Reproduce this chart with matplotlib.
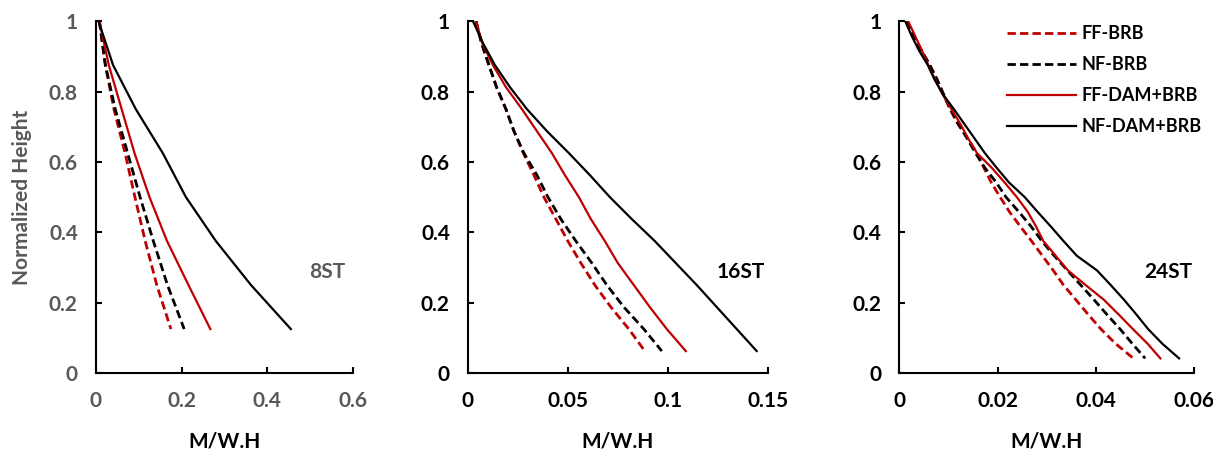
import matplotlib
matplotlib.use("Agg")
import matplotlib.pyplot as plt
from matplotlib.ticker import FuncFormatter

# --- Data ---
series_names = ['FF-BRB', 'NF-BRB', 'FF-DAM+BRB', 'NF-DAM+BRB']
panel_labels = ['8ST', '16ST', '24ST']

# normalized storey heights (top -> bottom)
h_8 = [1, 0.875, 0.75, 0.625, 0.5, 0.375, 0.25, 0.125]
h_16 = [1, 0.9375, 0.875, 0.8125, 0.75, 0.6875, 0.625, 0.5625, 0.5,
        0.4375, 0.375, 0.3125, 0.25, 0.1875, 0.125, 0.0625]
h_24 = [1, 0.9583, 0.9167, 0.875, 0.8333, 0.7917, 0.75, 0.7083, 0.6667,
        0.625, 0.5833, 0.5417, 0.5, 0.4583, 0.4167, 0.375, 0.3333, 0.2917,
        0.25, 0.2083, 0.1667, 0.125, 0.0833, 0.0417]

# 8 storey
ff_brb_8 = [0.008, 0.022, 0.042, 0.068, 0.091, 0.115, 0.142, 0.175]
nf_brb_8 = [0.008, 0.022, 0.045, 0.074, 0.103, 0.134, 0.167, 0.206]
ff_dam_8 = [0.008, 0.030, 0.060, 0.090, 0.125, 0.166, 0.216, 0.267]
nf_dam_8 = [0.006, 0.040, 0.093, 0.156, 0.210, 0.280, 0.362, 0.455]

# 16 storey
ff_brb_16 = [0.004, 0.0068, 0.0105, 0.0143, 0.019, 0.023, 0.0277, 0.033, 0.038,
             0.044, 0.050, 0.0565, 0.0635, 0.0715, 0.0805, 0.0885]
nf_brb_16 = [0.004, 0.0068, 0.0105, 0.0143, 0.019, 0.023, 0.028, 0.0345, 0.040,
             0.0465, 0.054, 0.062, 0.0695, 0.078, 0.088, 0.097]
ff_dam_16 = [0.004, 0.0072, 0.0125, 0.019, 0.027, 0.0345, 0.042, 0.0485, 0.0555,
             0.0615, 0.0685, 0.075, 0.083, 0.091, 0.0995, 0.109]
nf_dam_16 = [0.0025, 0.0075, 0.0135, 0.021, 0.0295, 0.0395, 0.0505, 0.061, 0.071,
             0.082, 0.0935, 0.104, 0.1145, 0.1245, 0.1345, 0.1445]

# 24 storey
ff_brb_24 = [0.0015, 0.0028, 0.0045, 0.0062, 0.0077, 0.0090, 0.0103, 0.0119,
             0.0139, 0.0158, 0.0172, 0.0187, 0.0205, 0.0224, 0.0246, 0.0269,
             0.0291, 0.0313, 0.0334, 0.0359, 0.0384, 0.0410, 0.0440, 0.0476]
nf_brb_24 = [0.0015, 0.0028, 0.0045, 0.0062, 0.0077, 0.0090, 0.0104, 0.0120,
             0.0138, 0.0155, 0.0174, 0.0197, 0.0217, 0.0243, 0.0268, 0.0290,
             0.0315, 0.0342, 0.0369, 0.0396, 0.0422, 0.0449, 0.0474, 0.0500]
ff_dam_24 = [0.0018, 0.0032, 0.0046, 0.0059, 0.0073, 0.0088, 0.0106, 0.0124,
             0.0140, 0.0158, 0.0188, 0.0214, 0.0239, 0.0261, 0.0278, 0.0293,
             0.0318, 0.0343, 0.0379, 0.0416, 0.0446, 0.0475, 0.0505, 0.0531]
nf_dam_24 = [0.0012, 0.0025, 0.0040, 0.0058, 0.0072, 0.0089, 0.0111, 0.0132,
             0.0153, 0.0174, 0.0198, 0.0223, 0.0255, 0.0281, 0.0308, 0.0334,
             0.0361, 0.0402, 0.0430, 0.0457, 0.0482, 0.0506, 0.0535, 0.0569]

x_limits = [0.6, 0.15, 0.06]
x_ticks = [[0, 0.2, 0.4, 0.6], [0, 0.05, 0.1, 0.15], [0, 0.02, 0.04, 0.06]]
y_ticks = [0, 0.2, 0.4, 0.6, 0.8, 1]

panels = [
    (h_8, [ff_brb_8, nf_brb_8, ff_dam_8, nf_dam_8]),
    (h_16, [ff_brb_16, nf_brb_16, ff_dam_16, nf_dam_16]),
    (h_24, [ff_brb_24, nf_brb_24, ff_dam_24, nf_dam_24]),
]

# --- Styling ---
plt.rcParams['font.family'] = ['Lato', 'DejaVu Sans']
plt.rcParams['font.weight'] = 'bold'
RED = '#C00000'
GRAY = '#595959'
styles = [
    dict(color=RED, lw=2.0, ls=(0, (3, 1.5))),
    dict(color='black', lw=2.0, ls=(0, (3, 1.5))),
    dict(color=RED, lw=1.6, ls='-'),
    dict(color='black', lw=1.6, ls='-'),
]
fs = 15

fig = plt.figure(figsize=(12.13, 4.5), dpi=100)
axes_rects = [
    [0.0791, 0.171, 0.2119, 0.782],
    [0.3858, 0.171, 0.2471, 0.782],
    [0.7414, 0.171, 0.2432, 0.782],
]
text_colors = [GRAY, 'black', 'black']

fmt = FuncFormatter(lambda v, p: '{:g}'.format(round(v, 4)))

for i, (heights, data) in enumerate(panels):
    ax = fig.add_axes(axes_rects[i])
    for vals, name, st in zip(data, series_names, styles):
        ax.plot(vals, heights, label=name, color=st['color'], linewidth=st['lw'],
                linestyle=st['ls'], solid_joinstyle='round')

    ax.set_xlim(0, x_limits[i])
    ax.set_ylim(0, 1)
    ax.set_xticks(x_ticks[i])
    ax.set_yticks(y_ticks)
    ax.xaxis.set_major_formatter(fmt)
    ax.yaxis.set_major_formatter(fmt)

    for side in ['top', 'right']:
        ax.spines[side].set_visible(False)
    for side in ['left', 'bottom']:
        ax.spines[side].set_linewidth(1.5)
        ax.spines[side].set_color('black')

    ax.tick_params(axis='both', direction='in', length=4, width=1.5,
                   labelsize=fs, labelcolor=text_colors[i], pad=13)
    ax.set_xlabel('M/W.H', fontsize=fs, fontweight='bold', color='black', labelpad=15)
    if i == 0:
        ax.set_ylabel('Normalized Height', fontsize=fs, fontweight='bold',
                      color=GRAY, labelpad=12)

    ax.text(0.83, 0.287, panel_labels[i], transform=ax.transAxes, fontsize=fs,
            fontweight='bold', color=text_colors[i], ha='left', va='center')

    if i == 2:
        ax.legend(loc='upper left', bbox_to_anchor=(0.31, 1.035), frameon=False,
                  fontsize=13, handlelength=3.8, handletextpad=0.35,
                  labelspacing=0.78)

fig.savefig('out.png', dpi=100)
